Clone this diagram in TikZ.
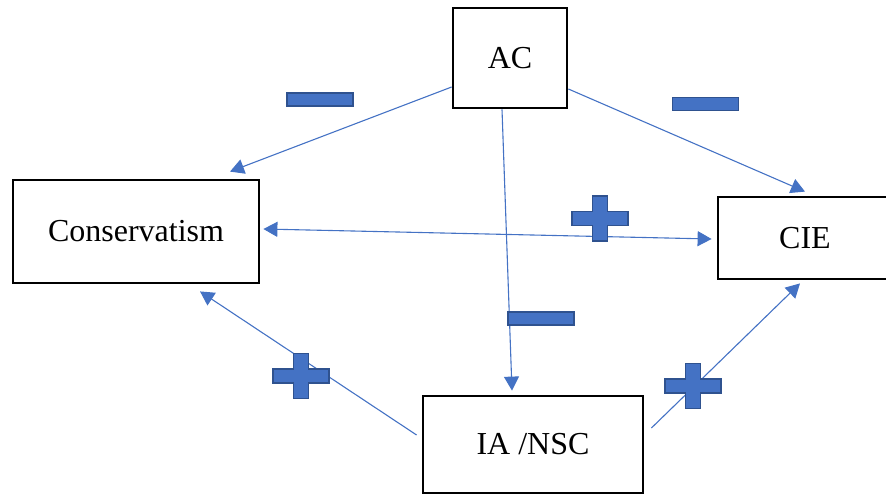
\documentclass[tikz,border=0pt]{standalone}
\usepackage{fontspec}
\setmainfont{Liberation Serif}
\usetikzlibrary{arrows.meta,calc}
\definecolor{linkblue}{HTML}{4472C4}
\definecolor{signedge}{HTML}{2F528F}
\tikzset{
  box/.style={draw=black, line width=2.8pt, fill=white, inner sep=0pt,
              font=\fontsize{32}{38}\selectfont},
  link/.style={draw=linkblue, line width=1.1pt,
               -{Triangle[length=14pt,width=15pt]}},
  dlink/.style={link, {Triangle[length=14pt,width=15pt]}-{Triangle[length=14pt,width=15pt]}},
  sign/.style={fill=linkblue, draw=signedge, line width=1.3pt},
}
% minus sign: a flat bar centred on the given point
\newcommand{\minussign}[1]{%
  \path[sign] ($#1+(-33,-6.5)$) rectangle ($#1+(33,6.5)$);}
% plus sign: a cross centred on the given point
\newcommand{\plussign}[1]{%
  \path[sign, shift={#1}]
    (-7.5,-22.5) -- (7.5,-22.5) -- (7.5,-7) -- (28,-7) -- (28,7) -- (7.5,7)
    -- (7.5,22.5) -- (-7.5,22.5) -- (-7.5,7) -- (-28,7) -- (-28,-7) -- (-7.5,-7) -- cycle;}
\begin{document}
\begin{tikzpicture}[x=1pt,y=-1pt]
\useasboundingbox (0,0) rectangle (886,496);

% variables
\node[box, minimum width=114pt, minimum height=100pt] (ac)   at (510,58)    {AC};
\node[box, minimum width=246pt, minimum height=103pt] (cons) at (136,231.5) {Conservatism};
\node[box, minimum width=174pt, minimum height=82pt]  (cie)  at (805,238)   {CIE};
\node[box, minimum width=220pt, minimum height=97pt]  (ia)   at (533,444.5) {IA /NSC};

% relations
\draw[link] ($(ac.west)+(0,29)$)  -- ($(cons.north)+(94,-7)$);
\draw[link] ($(ac.east)+(0,31)$)  -- ($(cie.north)+(0,-4)$);
\draw[link] ($(ac.south)+(-8,0)$) -- ($(ia.north)+(-21,-4)$);
\draw[dlink] ($(cons.east)+(3,-2.5)$) -- ($(cie.west)+(-5,1)$);
\draw[link] ($(ia.west)+(-5,-9.5)$) -- ($(cons.south)+(64,7)$);
\draw[link] ($(ia.east)+(7,-16.5)$) -- ($(cie.south)+(-5,3)$);

% signs of the effects
\minussign{(320,99.5)}
\minussign{(705.5,104)}
\minussign{(541,318.5)}
\plussign{(600,218.5)}
\plussign{(301,376)}
\plussign{(693,386)}
\end{tikzpicture}
\end{document}
